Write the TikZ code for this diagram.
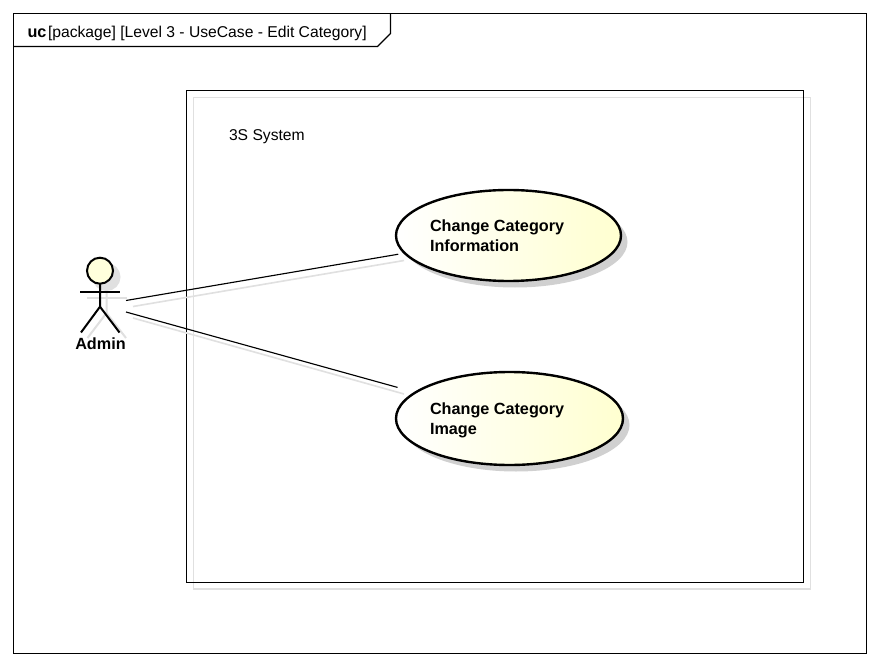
\documentclass[tikz,border=0pt]{standalone}
\usepackage{fontspec}
\setmainfont{Liberation Sans}
\usetikzlibrary{shapes.geometric}
\definecolor{shadowgray}{RGB}{224,224,224}
\definecolor{ucyellow}{RGB}{255,255,208}
\definecolor{ucshadow}{RGB}{208,208,208}
\tikzset{
  line/.style={draw=black,line width=0.85pt},
  shadowline/.style={draw=shadowgray,line width=1.2pt},
  boldline/.style={draw=black,line width=1.8pt},
  stickline/.style={draw=black,line width=1.5pt},
  stickshadow/.style={draw=shadowgray,line width=1.5pt},
  usecase/.style={ellipse,boldline,left color=white,right color=ucyellow,inner sep=0pt,outer sep=0pt},
  caseshadow/.style={ellipse,fill=ucshadow,inner sep=0pt,outer sep=0pt},
  plain/.style={font=\fontsize{11.75}{15}\selectfont,inner sep=0pt,outer sep=0pt},
  strong/.style={font=\bfseries\fontsize{12.15}{15}\selectfont,inner sep=0pt,outer sep=0pt,align=left}
}
\begin{document}
\begin{tikzpicture}[x=0.75pt,y=-0.75pt]
\useasboundingbox (0,0) rectangle (880,666);
\fill[white] (0,0) rectangle (880,666);
% frame and tab
\draw[line] (13.5,13.5) rectangle (866.5,653.5);
\draw[line] (13.5,46.5) -- (377.5,46.5) -- (390.5,33.5) -- (390.5,13.5);
\node[strong,anchor=base west] (ucword) at (27.5,37.5) {uc};
\node[plain,anchor=base west] (title) at (48,37.5) {[package] [Level 3 - UseCase - Edit Category]};
% system boundary
\draw[shadowline] (193.5,97.5) rectangle (810.5,589);
\draw[line] (186.5,90.5) rectangle (803.5,582.5);
\node[plain,anchor=base west] (system) at (229,141) {3S System};
% connector shadows
\coordinate (sa1) at (133,306.5);
\coordinate (sb1) at (404,260.5);
\coordinate (sa2) at (133,318);
\coordinate (sb2) at (404,394);
\draw[shadowline] (sa1) -- (sb1);
\draw[shadowline] (sa2) -- (sb2);
% use-case shadows and ellipses
\node[caseshadow,minimum width=168.75pt,minimum height=68.25pt] (s1) at (515,242) {};
\node[caseshadow,minimum width=170.25pt,minimum height=69.75pt] (s2) at (516,425) {};
\node[usecase,minimum width=168.75pt,minimum height=68.25pt] (uc1) at (508.5,235.5) {};
\node[usecase,minimum width=170.25pt,minimum height=69.75pt] (uc2) at (509.5,418.5) {};
\node[strong,anchor=west] (t1) at (430,235.5) {Change Category\\Information};
\node[strong,anchor=west] (t2) at (430,420.5) {Change Category\\Image};
% actor shadow
\draw[stickshadow,fill=shadowgray] (106.5,277) circle[radius=13];
\draw[stickshadow] (87,297.5) -- (127,297.5);
\draw[stickshadow] (106.5,290) -- (106.5,313) -- (87.5,338);
\draw[stickshadow] (106.5,313) -- (126,338);
% actor
\node[circle,stickline,fill=ucyellow!75!white,minimum size=19.5pt,inner sep=0pt,outer sep=0pt] (head) at (100,270.7) {};
\coordinate (hip) at (100,306.7);
\coordinate (armL) at (80,291.5);
\coordinate (armR) at (120,291.5);
\coordinate (footL) at (81,332.5);
\coordinate (footR) at (119.5,332.5);
\draw[stickline] (armL) -- (armR);
\draw[stickline] (head) -- (hip) -- (footL);
\draw[stickline] (hip) -- (footR);
\node[strong,anchor=base] (admin) at (100.5,349) {Admin};
% connectors
\coordinate (a1) at (126,300.5);
\coordinate (a2) at (126,312);
\draw[line,shorten >=5pt] (a1) -- (uc1);
\draw[line,shorten >=14pt] (a2) -- (uc2);
\end{tikzpicture}
\end{document}
